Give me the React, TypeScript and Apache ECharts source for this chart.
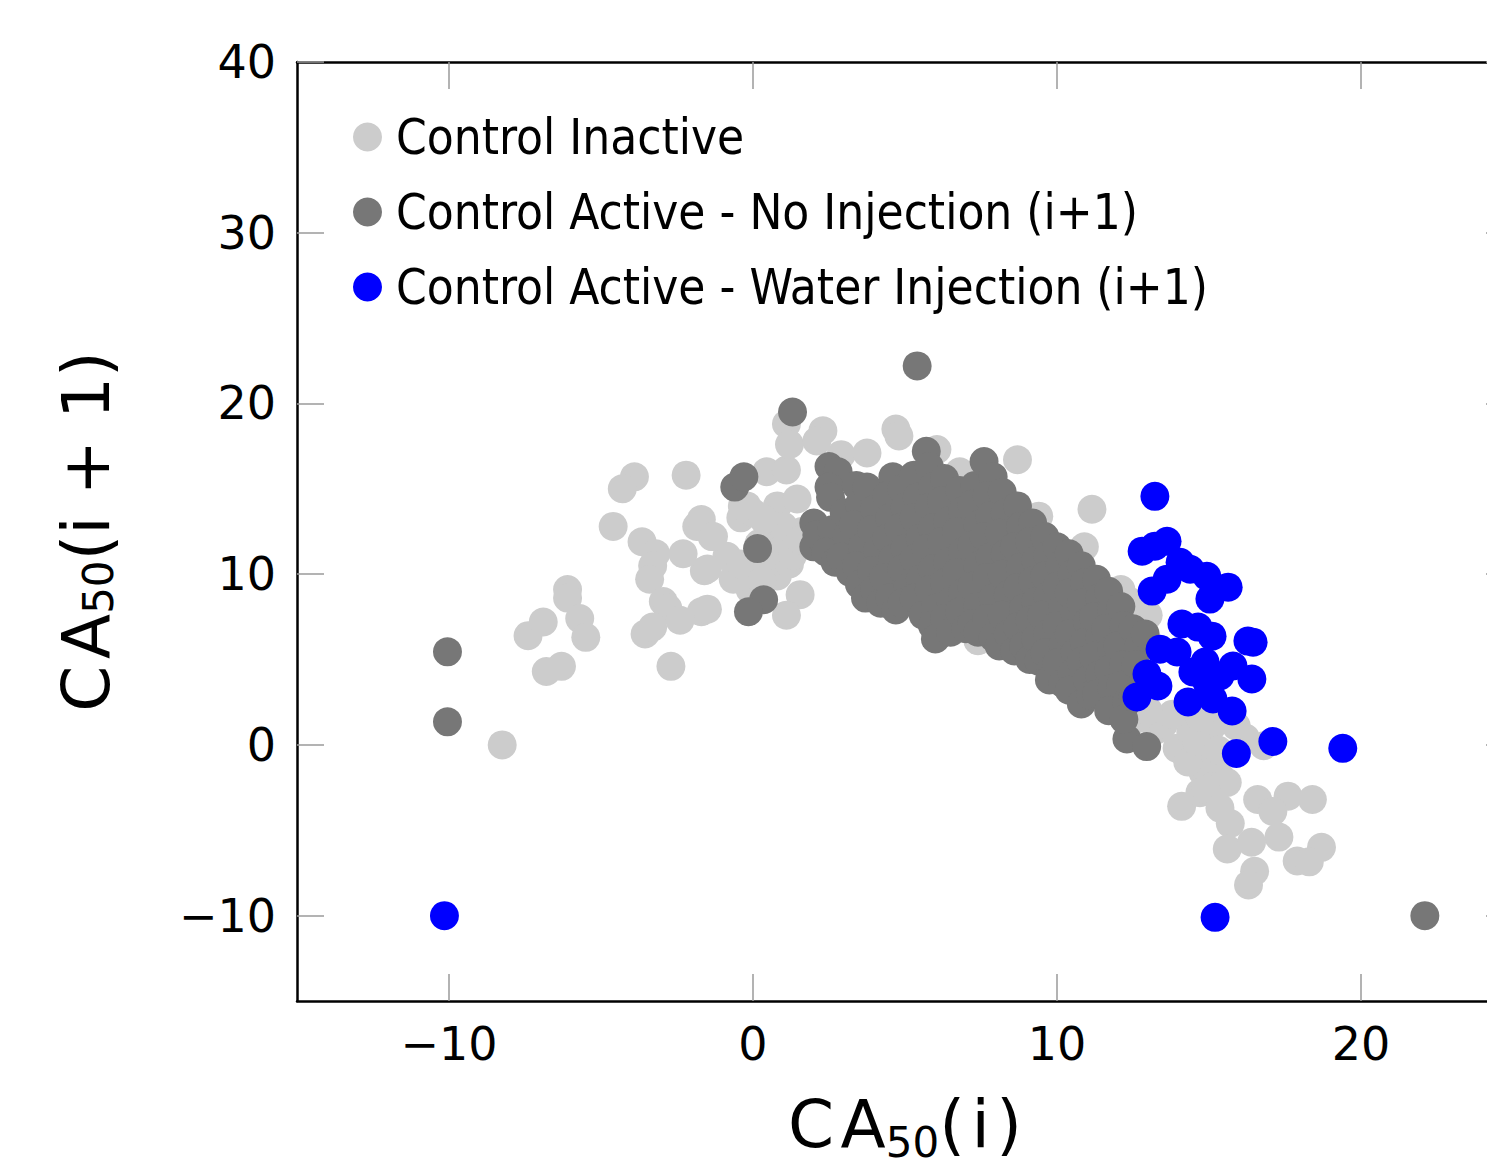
import React, { useEffect, useRef } from "react";
import * as echarts from "echarts";

const xTicks = [-10, 0, 10, 20];
const yTicks = [-10, 0, 10, 20, 30, 40];

const seriesNames = [
  "Control Inactive",
  "Control Active - No Injection (i+1)",
  "Control Active - Water Injection (i+1)",
];
const seriesColors = ["#cccccc", "#777777", "#0000ff"];

const inactivePoints = [
  [-8.25, 0.0],
  [-7.4, 6.4], [-6.9, 7.2], [-6.1, 9.1], [-6.1, 8.6], [-5.7, 7.4], [-5.5, 6.3], [-6.3, 4.6], [-6.8, 4.3],
  [-4.6, 12.8], [-3.9, 15.7], [-4.3, 15.0], [-2.2, 15.8],
  [-3.65, 11.9], [-3.2, 11.2], [-3.3, 10.5], [-3.4, 9.7],
  [-1.85, 12.8], [-1.35, 12.2], [-2.3, 11.2], [-1.6, 10.2], [-0.86, 11.05],
  [-0.4, 13.3], [-0.2, 14.0], [0.8, 14.0],
  [-0.2, 9.5], [-0.1, 9.1], [-0.65, 9.7], [0.8, 9.9], [1.55, 8.8], [1.1, 7.6],
  [-2.95, 8.4], [-2.8, 8.0], [-1.7, 7.8], [-2.4, 7.3], [-3.55, 6.5], [-3.3, 6.9], [-2.7, 4.6],
  [-1.5, 7.95], [-1.5, 10.3], [-1.7, 13.2], [-1.3, 12.2],
  [0.45, 16.0], [1.1, 16.1], [1.1, 18.8], [2.3, 18.4], [1.2, 17.6], [2.1, 17.8],
  [0.0, 13.6], [0.5, 12.7], [1.1, 12.4], [0.2, 11.8], [0.9, 11.4], [-0.4, 10.6], [0.4, 10.3],
  [1.2, 10.6], [0.3, 9.6], [1.3, 11.1], [1.6, 12.5], [1.0, 12.8], [1.45, 14.4], [0.35, 13.2],
  [-0.35, 14.0], [1.55, 12.0],
  [2.9, 17.0], [3.75, 17.1], [4.7, 18.5], [4.8, 18.1], [6.05, 17.3], [6.8, 16.0], [8.7, 16.7],
  [9.4, 13.4], [11.15, 13.8], [10.9, 11.6], [12.1, 9.1], [12.7, 7.0], [7.4, 6.1],
  [4.0, 12.0], [6.0, 11.0], [8.0, 9.5], [9.5, 8.0], [11.0, 6.0], [12.0, 5.0], [12.8, 5.2],
  [13.0, 7.6], [12.4, 8.4],
  [12.6, 1.5], [13.3, 0.9], [13.95, -0.2], [14.4, 0.75], [15.1, 1.1], [15.9, 1.1], [14.8, -1.6],
  [15.35, -1.8], [15.6, -2.2], [15.1, -0.8], [16.8, -0.05], [14.1, -3.6], [14.7, -2.8],
  [16.6, -3.2], [17.6, -3.0], [18.4, -3.2], [17.1, -3.9], [15.7, -4.6], [17.3, -5.4],
  [15.6, -6.1], [16.4, -5.7], [18.7, -6.0], [17.9, -6.8], [18.3, -6.85], [16.5, -7.4], [16.3, -8.2],
  [13.5, 1.2], [14.3, -1.0], [14.6, 0.2], [15.3, -0.3], [14.9, -2.6], [15.36, -3.7],
  [13.8, 1.8], [14.7, 1.6], [13.0, 2.0], [16.2, 0.4],
];

const noInjectionPoints = [
  [-10.05, 5.45], [-10.05, 1.35], [22.1, -10.0], [5.4, 22.2], [1.3, 19.5],
  [-0.6, 15.1], [-0.3, 15.7], [0.15, 11.5], [0.35, 8.5], [-0.15, 7.8],
  [12.3, 0.35], [12.95, -0.1],
  [2.0, 13.0], [2.0, 11.6], [2.1, 12.3],
  [2.5, 16.3], [2.8, 16.0], [2.5, 15.1], [2.55, 14.5], [2.6, 12.6], [2.4, 11.3], [2.7, 10.7],
  [3.0, 13.6], [3.1, 12.2], [2.9, 11.0], [3.2, 10.1],
  [3.4, 15.2], [3.5, 14.1], [3.3, 12.9], [3.6, 11.6], [3.4, 10.5], [3.5, 9.4], [3.7, 8.6],
  [3.75, 15.1], [4.0, 13.8], [3.9, 12.6], [4.1, 11.4], [3.9, 10.2], [4.0, 9.1], [4.2, 8.3],
  [4.6, 15.7], [4.4, 14.6], [4.5, 13.3], [4.4, 12.1], [4.6, 10.9], [4.3, 9.8], [4.5, 8.6], [4.7, 7.9],
  [4.9, 15.0], [5.0, 13.9], [4.8, 12.7], [5.0, 11.5], [4.9, 10.3], [5.1, 9.2], [4.9, 8.3],
  [5.3, 15.8], [5.4, 14.5], [5.3, 13.3], [5.5, 12.1], [5.3, 10.9], [5.5, 9.7], [5.3, 8.6], [5.6, 7.6],
  [5.7, 17.2], [5.8, 16.3], [5.9, 15.1], [5.8, 13.9], [5.9, 12.7], [5.7, 11.5], [5.9, 10.3],
  [5.8, 9.1], [6.0, 8.0], [5.9, 7.0], [6.0, 6.2],
  [6.3, 15.6], [6.2, 14.3], [6.4, 13.1], [6.2, 11.9], [6.4, 10.7], [6.3, 9.5], [6.5, 8.4], [6.3, 7.4], [6.5, 6.6],
  [6.8, 14.9], [6.9, 13.7], [6.7, 12.5], [6.9, 11.3], [6.7, 10.1], [6.9, 8.9], [6.8, 7.8], [7.0, 6.8],
  [7.3, 15.2], [7.2, 14.1], [7.4, 12.9], [7.2, 11.7], [7.4, 10.5], [7.2, 9.3], [7.4, 8.1], [7.2, 7.1], [7.4, 6.6],
  [7.6, 16.6], [7.9, 15.7], [7.7, 14.6], [7.8, 13.4], [7.6, 12.2], [7.8, 11.0], [7.7, 9.8],
  [7.9, 8.6], [7.7, 7.4], [7.9, 6.3], [8.1, 5.8],
  [8.2, 14.8], [8.3, 13.6], [8.1, 12.4], [8.3, 11.2], [8.2, 10.0], [8.4, 8.8], [8.2, 7.6], [8.4, 6.5], [8.6, 5.5],
  [8.7, 14.0], [8.8, 12.8], [8.6, 11.6], [8.8, 10.4], [8.7, 9.2], [8.9, 8.0], [8.7, 6.9], [8.9, 5.8], [9.1, 5.0],
  [9.2, 13.0], [9.1, 11.9], [9.3, 10.8], [9.2, 9.6], [9.3, 8.4], [9.1, 7.3], [9.3, 6.2], [9.4, 4.9],
  [9.6, 12.2], [9.7, 11.1], [9.6, 9.9], [9.7, 8.7], [9.5, 7.6], [9.7, 6.5], [9.6, 5.4], [9.8, 4.4], [9.75, 3.8],
  [10.0, 11.6], [10.1, 10.5], [10.0, 9.3], [10.2, 8.1], [10.0, 7.0], [10.2, 5.9], [10.0, 4.8], [10.2, 3.6],
  [10.4, 11.2], [10.5, 10.0], [10.4, 8.9], [10.6, 7.7], [10.4, 6.5], [10.6, 5.4], [10.5, 4.2], [10.4, 3.2],
  [10.8, 10.5], [10.9, 9.5], [10.8, 8.3], [11.0, 7.2], [10.9, 6.0], [10.8, 4.9], [11.0, 3.8], [10.8, 2.4], [11.1, 2.9],
  [11.3, 9.7], [11.4, 8.6], [11.2, 7.5], [11.4, 6.3], [11.2, 5.2], [11.4, 4.1], [11.3, 3.0],
  [11.7, 9.0], [11.8, 7.9], [11.6, 6.8], [11.8, 5.6], [11.7, 4.4], [11.8, 3.3], [11.7, 2.0],
  [12.1, 8.1], [12.2, 7.0], [12.0, 5.8], [12.2, 4.7], [12.1, 3.5], [12.3, 2.5], [12.2, 1.5],
  [12.5, 6.8], [12.7, 5.8], [12.6, 4.7], [12.8, 3.6], [12.5, 2.8], [12.9, 6.5],
];

const waterPoints = [
  [-10.15, -10.0], [15.2, -10.1], [19.4, -0.2], [17.1, 0.2], [15.9, -0.5],
  [13.22, 14.56], [12.8, 11.35], [13.22, 11.64], [13.62, 11.93], [14.05, 10.7], [14.38, 10.29],
  [13.13, 9.01], [13.62, 9.71], [14.93, 9.88], [15.03, 8.54], [15.63, 9.24],
  [14.11, 7.08], [14.64, 6.9], [15.1, 6.37], [13.39, 5.61], [13.95, 5.44], [16.28, 6.08], [16.45, 6.02],
  [12.96, 4.15], [13.32, 3.45], [12.63, 2.81], [14.47, 4.27], [14.87, 4.85], [15.36, 4.04],
  [15.79, 4.62], [16.41, 3.86], [14.31, 2.51], [15.13, 2.69], [15.76, 1.99], [14.93, 3.68],
];

const pointSets = [inactivePoints, noInjectionPoints, waterPoints];

const FONT = "'DejaVu Sans', sans-serif";
const LEGEND_FONT = "'DejaVu Sans Condensed', 'Liberation Sans Narrow', 'DejaVu Sans', sans-serif";
const HS = "\u200A";

export default function App() {
  const ref = useRef<HTMLDivElement>(null);
  useEffect(() => {
    document.body.style.margin = "0";
    const chart = echarts.init(ref.current!, null, { renderer: "svg" });
    const fmt = (v: number) => (v < 0 ? "\u2212" + Math.abs(v) : String(v));
    const axisLine = { show: true, onZero: false, lineStyle: { color: "#000", width: 2.5 } };
    const tick = (vals: number[]) => ({
      show: true,
      inside: true,
      length: 27,
      customValues: vals,
      lineStyle: { color: "#9a9a9a", width: 1.5 },
    });
    const labelStyle = { fontSize: 46, fontFamily: FONT, color: "#000" };
    const richX = {
      m: { fontSize: 66, fontFamily: FONT, color: "#000", lineHeight: 30, verticalAlign: "bottom", padding: [0, 0, 6, 0] },
      s: { fontSize: 42, fontFamily: FONT, color: "#000", lineHeight: 20, verticalAlign: "bottom" },
    };
    const richY = {
      m: { fontSize: 66, fontFamily: FONT, color: "#000", lineHeight: 66, verticalAlign: "bottom" },
      s: { fontSize: 42, fontFamily: FONT, color: "#000", lineHeight: 42, verticalAlign: "bottom" },
    };
    chart.setOption({
      animation: false,
      backgroundColor: "#fff",
      grid: { left: 297, right: 7, top: 62, bottom: 169, containLabel: false, outerBoundsMode: "none" },
      legend: {
        orient: "vertical",
        left: 353,
        top: 112,
        padding: 0,
        itemGap: 25,
        itemWidth: 29,
        itemHeight: 29,
        icon: "circle",
        data: seriesNames,
        textStyle: {
          fontSize: 49,
          lineHeight: 50,
          fontFamily: LEGEND_FONT,
          color: "#000",
          padding: [0, 0, 0, 9],
        },
      },
      xAxis: [
        {
          type: "value",
          min: -15,
          max: 25,
          position: "bottom",
          axisLine,
          axisTick: tick(xTicks),
          axisLabel: { ...labelStyle, margin: 20, customValues: xTicks, formatter: fmt },
          splitLine: { show: false },
          name: `{m|C${HS}A}{s|50}{m|(${HS}i${HS})}`,
          nameLocation: "middle",
          nameGap: 132,
          nameTextStyle: { rich: richX, fontSize: 66, fontFamily: FONT },
        },
        {
          type: "value",
          min: -15,
          max: 25,
          position: "top",
          axisLine,
          axisTick: tick(xTicks),
          axisLabel: { show: false },
          splitLine: { show: false },
        },
      ],
      yAxis: [
        {
          type: "value",
          min: -15,
          max: 40,
          position: "left",
          axisLine,
          axisTick: tick(yTicks),
          axisLabel: { ...labelStyle, margin: 21, customValues: yTicks, formatter: fmt },
          splitLine: { show: false },
          name: `{m|C${HS}A}{s|50}{m|(i + 1)}`,
          nameLocation: "middle",
          nameGap: 178,
          nameTextStyle: { rich: richY, fontSize: 66, fontFamily: FONT },
        },
        {
          type: "value",
          min: -15,
          max: 40,
          position: "right",
          axisLine,
          axisTick: tick(yTicks),
          axisLabel: { show: false },
          splitLine: { show: false },
        },
      ],
      series: seriesNames.map((name, i) => ({
        name,
        type: "scatter",
        xAxisIndex: 0,
        yAxisIndex: 0,
        symbol: "circle",
        symbolSize: 29,
        itemStyle: { color: seriesColors[i], opacity: 1 },
        emphasis: { disabled: true },
        data: pointSets[i],
      })),
    });
    return () => chart.dispose();
  }, []);
  return (
    <div
      style={{
        position: "fixed",
        left: 0,
        top: 0,
        width: 1487,
        height: 1170,
        overflow: "hidden",
        background: "#fff",
      }}
    >
      <div ref={ref} style={{ width: 1520, height: 1170 }} />
    </div>
  );
}
